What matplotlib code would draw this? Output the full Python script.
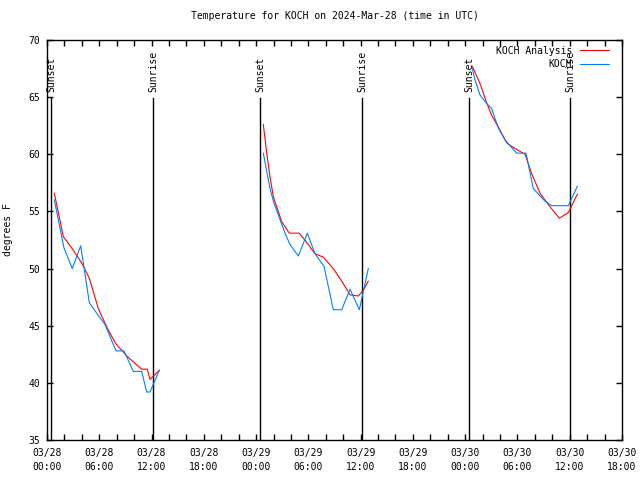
import matplotlib
matplotlib.use("Agg")
import matplotlib.pyplot as plt
from matplotlib.ticker import FixedLocator, MultipleLocator
import numpy as np

plt.rcParams['font.family'] = ['DejaVu Sans Mono']
FS = 7

# hours after 2024-03-28 00:00 UTC
analysis_hours = [
    [0.84, 1.87, 2.84, 3.98, 4.86, 5.89, 7.04, 7.92, 9.22, 10.87, 11.51, 11.82, 12.89],
    [24.83, 25.22, 25.60, 25.98, 26.37, 26.94, 27.81, 28.96, 29.99, 30.76, 31.71, 32.86,
     33.83, 34.78, 35.73, 36.31, 36.88],
    [48.82, 49.70, 50.47, 51.04, 51.80, 52.77, 53.52, 54.87, 55.64, 56.59, 57.54, 58.80,
     59.84, 60.87],
]
analysis_temp = [
    [56.6, 52.8, 51.8, 50.5, 49.15, 46.5, 44.6, 43.4, 42.3, 41.2, 41.2, 40.3, 41.1],
    [62.6, 60.1, 58.0, 56.3, 55.4, 54.1, 53.1, 53.1, 52.1, 51.3, 51.0, 50.0,
     48.9, 47.7, 47.6, 48.1, 48.9],
    [67.7, 66.2, 64.5, 63.4, 62.4, 61.0, 60.6, 60.0, 58.3, 56.6, 55.6, 54.4,
     54.9, 56.5],
]
obs_hours = [
    [0.84, 1.95, 2.90, 3.87, 4.86, 5.89, 6.66, 7.92, 8.84, 9.90, 10.87, 11.44, 11.82, 12.89],
    [24.83, 25.22, 25.60, 25.98, 26.55, 27.32, 27.89, 28.85, 29.88, 30.76, 31.80, 32.86,
     33.83, 34.78, 35.85, 36.88],
    [48.82, 49.13, 49.70, 50.28, 51.04, 51.80, 52.57, 53.91, 54.98, 55.82, 57.16, 57.93,
     59.84, 60.87],
]
obs_temp = [
    [56.0, 51.8, 50.0, 52.0, 47.0, 45.9, 45.1, 42.8, 42.8, 41.0, 41.0, 39.2, 39.2, 41.1],
    [60.1, 58.5, 57.0, 55.9, 54.7, 53.1, 52.1, 51.1, 53.1, 51.3, 50.2, 46.4,
     46.4, 48.2, 46.4, 50.0],
    [67.5, 66.5, 65.2, 64.6, 64.0, 62.3, 61.25, 60.1, 60.1, 57.0, 55.9, 55.5,
     55.5, 57.2],
]
sun_hours = [0.46, 12.20, 24.48, 36.19, 48.47, 60.03]
sun_labels = ["Sunset", "Sunrise", "Sunset", "Sunrise", "Sunset", "Sunrise"]

tick_hours = list(range(0, 67, 6))
tick_labels = ["03/28\n00:00", "03/28\n06:00", "03/28\n12:00", "03/28\n18:00",
               "03/29\n00:00", "03/29\n06:00", "03/29\n12:00", "03/29\n18:00",
               "03/30\n00:00", "03/30\n06:00", "03/30\n12:00", "03/30\n18:00"]

fig = plt.figure(figsize=(6.4, 4.8), dpi=100)
ax = fig.add_axes([47/640, 1-440/480, 575/640, 400/480])

for x, lab in zip(sun_hours, sun_labels):
    ax.plot([x, x], [35, 64.93], color='black', lw=1.0)
    ax.text(x, 65.45, lab, rotation=90, ha='center', va='bottom', fontsize=FS)

for i, (h, t) in enumerate(zip(analysis_hours, analysis_temp)):
    ax.plot(h, t, color='#ff0000', lw=0.8, label='KOCH Analysis' if i == 0 else None)
for i, (h, t) in enumerate(zip(obs_hours, obs_temp)):
    ax.plot(h, t, color='#0080ff', lw=0.8, label='KOCH' if i == 0 else None)

ax.set_xlim(0, 66)
ax.set_ylim(35, 70)
ax.xaxis.set_major_locator(FixedLocator(tick_hours))
ax.set_xticklabels(tick_labels, fontsize=FS, linespacing=1.4)
ax.xaxis.set_minor_locator(MultipleLocator(2))
ax.yaxis.set_major_locator(MultipleLocator(5))
for lbl in ax.get_yticklabels():
    lbl.set_fontsize(FS)
ax.tick_params(which='both', direction='in', top=True, right=True, length=4, width=1,
               labelsize=FS)
ax.tick_params(axis='y', pad=5)
ax.tick_params(axis='x', pad=6)
for s in ax.spines.values():
    s.set_linewidth(1)

ax.set_title("Temperature for KOCH on 2024-Mar-28 (time in UTC)", fontsize=FS, pad=15)
fig.text(8.5/640, 1-230/480, "degrees F", rotation=90, ha='center', va='center', fontsize=FS)

leg = ax.legend(loc='upper right', bbox_to_anchor=(1.0 - 6/575, 1.0 + 1/400), frameon=False,
                markerfirst=False, fontsize=FS, handlelength=3.0, handletextpad=0.8,
                borderaxespad=0.3, labelspacing=0.35)

fig.savefig("out.png", dpi=100)
